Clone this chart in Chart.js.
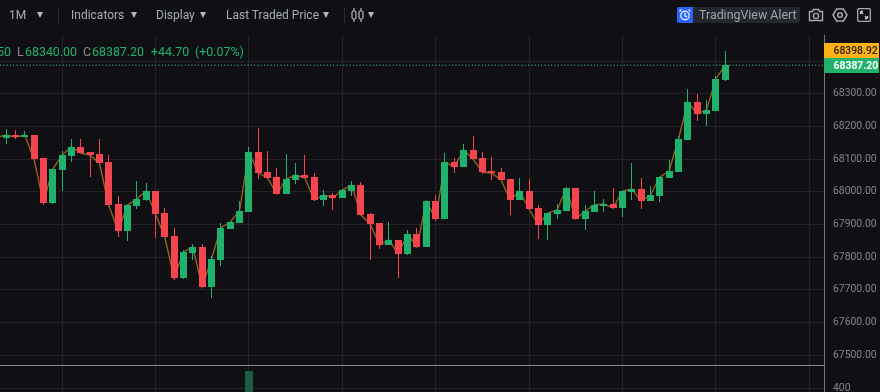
<!DOCTYPE html>
<html><head><meta charset="utf-8">
<script src="https://cdn.jsdelivr.net/npm/chart.js@4"></script>
<style>
html,body{margin:0;padding:0;background:#101014;overflow:hidden}
#wrap{position:relative;width:880px;height:392px;font-family:Roboto,sans-serif}
canvas{position:absolute;left:0;top:0}
.t{position:absolute;white-space:nowrap;font-size:12px;line-height:16px;top:7px;color:#a3acb9}
.o{position:absolute;white-space:nowrap;font-size:12.4px;line-height:16px;top:44px;color:#20b26c}
.g{color:#8b8b8f}
.sep{position:absolute;top:7px;width:1px;height:16px;background:#2c2c31}
.tri{position:absolute;top:12px;width:0;height:0;border-left:3.5px solid transparent;border-right:3.5px solid transparent;border-top:6px solid #b4b8be}
svg{position:absolute}
</style></head><body>
<div id="wrap">
<canvas id="c" width="880" height="392"></canvas>
<div class="t" style="left:9px">1M</div><div class="tri" style="left:37px"></div>
<div class="sep" style="left:58px"></div>
<div class="t" style="left:71px">Indicators</div><div class="tri" style="left:131px"></div>
<div class="t" style="left:156px">Display</div><div class="tri" style="left:200px"></div>
<div class="t" style="left:226px">Last Traded Price</div><div class="tri" style="left:323px"></div>
<div class="sep" style="left:344px"></div>
<svg style="left:351px;top:7px" width="13" height="16" viewBox="0 0 13 16" fill="none" stroke="#b4b8be" stroke-width="1.2"><rect x="1" y="4" width="4" height="8" rx="1.5"/><path d="M3 1v3M3 12v3"/><rect x="8" y="4" width="4" height="8" rx="1.5"/><path d="M10 1v3M10 12v3"/></svg>
<div class="tri" style="left:368px"></div>
<div style="position:absolute;left:677px;top:7px;width:123px;height:16px;background:#25272e;border-radius:2px"></div>
<div style="position:absolute;left:677px;top:7px;width:16px;height:16px;background:#2962ff;border-radius:2px 0 0 2px"></div>
<svg style="left:678px;top:8px" width="14" height="14" viewBox="0 0 14 14" fill="none" stroke="#dfe7ff" stroke-width="1.4"><circle cx="7" cy="7.5" r="4.2"/><path d="M7 5v3l2 1M1.5 3.5l2-2M12.5 3.5l-2-2"/></svg>
<div class="t" style="left:699px;color:#a0a4ab;font-size:12.4px">TradingView Alert</div>
<svg style="left:808px;top:8px" width="16" height="14" viewBox="0 0 16 14" fill="none" stroke="#a8acb2" stroke-width="1.4"><path d="M1.5 3.5h3l1-2h5l1 2h3v9h-13z"/><circle cx="8" cy="8" r="2.6"/></svg>
<svg style="left:832px;top:8px" width="16" height="14" viewBox="0 0 16 14" fill="none" stroke="#a8acb2" stroke-width="1.5"><path d="M4.5 1h7l3.5 6-3.500 6h-7L1 7z"/><circle cx="8" cy="7" r="2.300"/></svg>
<svg style="left:857px;top:8px" width="14" height="14" viewBox="0 0 14 14" fill="none" stroke="#a8acb2" stroke-width="1.3"><rect x="0.700" y="0.700" width="12.600" height="12.600" rx="1"/><path d="M3.500 3.500l2.500 2.500M3.500 3.500h2.500M3.500 3.500v2.500M10.500 10.500l-2.500-2.500M10.500 10.500h-2.500M10.500 10.500v-2.500" stroke="#c9ccd1"/></svg>
<div class="o" style="left:-3px">50</div>
<div class="o g" style="left:17px">L</div>
<div class="o" style="left:25px">68340.00</div>
<div class="o g" style="left:83px">C</div>
<div class="o" style="left:92px">68387.20</div>
<div class="o" style="left:151px">+44.70</div>
<div class="o" style="left:195px">(+0.07%)</div>
</div>
<script>
const candleIndex=[-1,0,1,2,3,4,5,6,7,8,9,10,11,12,13,14,15,16,17,18,19,20,21,22,23,24,25,26,27,28,29,30,31,32,33,34,35,36,37,38,39,40,41,42,43,44,45,46,47,48,49,50,51,52,53,54,55,56,57,58,59,60,61,62,63,64,65,66,67,68,69,70,71,72,73,74,75,76,77];
const opens=[68161,68164,68173.5,68167,68173.5,68103,67966.4,68066.4,68109,68137,68121.5,68115.3,68090.8,67962.3,67879.6,67956.2,67974.5,68002,67934.7,67864.3,67735.8,67812.3,67830.7,67708.2,67790.9,67885.8,67904.1,67937.8,68121.5,68060.2,68045,67992.9,68035.8,68051,68045,67974.5,67989.8,67980.6,68002,68020.4,67931.7,67904.1,67836.8,67852.1,67809.2,67870.5,67830.7,67971.5,67916.4,68090.8,68075.5,68127.6,68103.1,68063.3,68060.2,68038.8,67974.5,68002,67950,67898,67931.7,67940.9,68011.3,67916.4,67937.8,67956.2,67962.3,67950,67999,68008.2,67971.5,67986.8,68041.9,68060.2,68158.2,68274.5,68237.8,68247,68342.5];
const highs=[68170,68192,68189,68186,68173.5,68103,68068.4,68124.5,68161,68161,68121.5,68161,68112,67986.8,67959.2,68032.7,68026.6,68002,67950,67888.8,67821.5,67839.8,67839.8,67803.1,67904.1,67910.2,67971.5,68136.8,68194.9,68124.5,68072.5,68115.3,68087.8,68112.3,68057.2,68005.1,67995.9,68008.2,68032.7,68029.6,67934.7,67904.1,67907.2,67852.1,67882.7,67888.8,67971.5,67989.8,68118.4,68103.1,68145.9,68170.4,68121.5,68106.1,68072.5,68038.8,68041.9,68038.8,67959.2,67934.7,67962.3,68011.3,68011.3,67959.2,68002,67977.6,68011.3,68002,68087.8,68041.9,68017.4,68045,68097,68170.4,68314.3,68299,68280.6,68354.1,68430.6];
const lows=[68158,68146,68161,68166,68100,67959,67962,68002,68091,68118.4,68045,68087.8,67959.2,67861.3,67849,67947,67971.5,67858.2,67861.3,67729.7,67732.7,67790.9,67708.2,67674.6,67772.5,67885.8,67904.1,67937.8,68038.8,68041.9,67992.9,67992.9,68023.5,68041.9,67971.5,67956.2,67943.9,67980.6,67986.8,67928.6,67790.9,67824.5,67836.8,67735.8,67806.2,67830.7,67830.7,67910.2,67916.4,68057.2,68075.5,68100,68054.1,68035.8,68035.8,67928.6,67974.5,67947,67855.1,67852.1,67916.4,67940.9,67916.4,67882.7,67937.8,67937.8,67950,67922.5,67974.5,67947,67971.5,67968.4,68041.9,68060.2,68158.2,68216.4,68201.1,68247,68340];
const closes=[68166,68173.5,68167,68173.5,68100,67966.4,68068.4,68112,68137,68118.4,68112,68087.8,67959.2,67879.6,67959.2,67977.6,68002,67931.7,67861.3,67735.8,67815.4,67830.7,67708.2,67794,67888.8,67907.2,67940.9,68121.5,68057.2,68041.9,67992.9,68038.8,68051,68041.9,67974.5,67989.8,67980.6,68005.1,68020.4,67928.6,67901.1,67836.8,67852.1,67809.2,67870.5,67830.7,67971.5,67916.4,68090.8,68075.5,68127.6,68100,68060.2,68057.2,68035.8,67974.5,68002,67947,67898,67934.7,67943.9,68011.3,67916.4,67940.9,67959.2,67962.3,67950,68002,68008.2,67971.5,67989.8,68045,68063.3,68161.3,68274.5,68237.8,68250,68345,68387.2];
const volumeIndex=[26];
const volumeValues=[740];
const priceTicks=[67500,67600,67700,67800,67900,68000,68100,68200,68300,68400];
const volumeTicks=[400];
const gridIndexes=[6,16,26,36,46,56,66,76,86];
const lastPrice=68387.20;
const markPrice=68398.92;
const xRange=[-0.6424,87.58];
const priceRange=[67469.5,68479.6];
const volumeRange=[320,860];

const UP='#20b26c',DOWN='#f4454f',BG='#101014',GRID='#232327',AXIS='#77777b',TXT='#858589';
const FONT='Roboto, sans-serif';
const colors=opens.map((o,i)=>closes[i]>=o?UP:DOWN);
const pts=(a,b)=>candleIndex.map((x,i)=>({x,y:b?[a[i],b[i]]:a[i]}));
const fitSide=s=>{s.width=56;s.paddingTop=0;s.paddingBottom=0;s.paddingLeft=0;s.paddingRight=0};

const snap={id:'snap',beforeDatasetsDraw(chart){
  chart.getSortedVisibleDatasetMetas().forEach(m=>{
    if(m.type!=='bar')return;
    m.data.forEach(el=>{
      const left=Math.floor(el.x-(el.width-1)/2);
      el.x=left+el.width/2;
      let top=Math.round(Math.min(el.y,el.base)),bot=Math.round(Math.max(el.y,el.base));
      if(bot<=top)bot=top+1;
      el.y=top;el.base=bot;
    });
  });
}};
const tags={id:'tags',afterDraw(chart){
  const {ctx,scales:{y,v}}=chart;
  const a=y.left,b=chart.width-1;
  ctx.save();
  ctx.fillStyle='#8a8a8e';
  ctx.fillRect(0,Math.round(v.top),a,1);
  const cy=Math.round(y.getPixelForValue(lastPrice));
  const gt=cy-7,h=15;
  ctx.fillStyle=UP;ctx.fillRect(a,gt,b-a,h);
  ctx.fillStyle='#ffb11a';ctx.fillRect(a,gt-15,b-a,15);
  ctx.textBaseline='middle';ctx.textAlign='left';
  ctx.font='500 10.4px '+FONT;ctx.fillStyle='#2a2206';
  ctx.fillText(markPrice.toFixed(2),a+9.5,gt-7);
  ctx.font='700 10.4px '+FONT;ctx.fillStyle='#ffffff';
  ctx.fillText(lastPrice.toFixed(2),a+9.5,gt+8);
  ctx.restore();
}};
new Chart(document.getElementById('c'),{
  type:'bar',
  plugins:[snap,tags],
  data:{datasets:[
    {type:'line',data:[{x:xRange[0],y:lastPrice},{x:xRange[1],y:lastPrice}],yAxisID:'y',borderColor:'#2fe0a0',borderWidth:1,borderDash:[1,2.3],pointRadius:0,order:5},
    {type:'line',data:pts(closes),yAxisID:'y',borderColor:'#93621e',borderWidth:1.4,pointRadius:0,tension:0,order:4},
    {data:pts(lows,highs),yAxisID:'y',backgroundColor:colors,barThickness:1,grouped:false,inflateAmount:0,order:2},
    {data:pts(opens,closes),yAxisID:'y',backgroundColor:colors,barThickness:7,grouped:false,inflateAmount:0,order:1},
    {data:volumeIndex.map((x,i)=>({x,y:volumeValues[i]})),yAxisID:'v',backgroundColor:'#1a5c43',barThickness:8,grouped:false,inflateAmount:0,order:3}
  ]},
  options:{
    responsive:false,animation:false,
    layout:{padding:{top:35,left:0,right:0,bottom:0}},
    plugins:{legend:{display:false},tooltip:{enabled:false}},
    scales:{
      x:{type:'linear',offset:false,min:xRange[0],max:xRange[1],
        afterBuildTicks:s=>{s.ticks=gridIndexes.map(value=>({value}))},
        afterFit:s=>{s.height=0;s.paddingLeft=0;s.paddingRight=0;s.paddingTop=0;s.paddingBottom=0},
        ticks:{display:false},
        grid:{color:GRID,drawTicks:false,offset:false},border:{display:false}},
      y:{position:'right',stack:'p',stackWeight:330,weight:1,min:priceRange[0],max:priceRange[1],
        afterBuildTicks:s=>{s.ticks=priceTicks.map(value=>({value}))},
        afterFit:fitSide,
        ticks:{padding:9,color:TXT,font:{family:FONT,size:10.4},callback:v=>Number(v).toFixed(2),autoSkip:false,maxRotation:0},
        grid:{color:GRID,drawTicks:false},border:{color:AXIS}},
      v:{position:'right',stack:'p',stackWeight:27,weight:2,min:volumeRange[0],max:volumeRange[1],
        afterBuildTicks:s=>{s.ticks=volumeTicks.map(value=>({value}))},
        afterFit:fitSide,
        ticks:{padding:9,color:TXT,font:{family:FONT,size:10.4},callback:v=>String(v),autoSkip:false,maxRotation:0},
        grid:{color:GRID,drawTicks:false},border:{color:AXIS}}
    }
  }
});
</script>
</body></html>
